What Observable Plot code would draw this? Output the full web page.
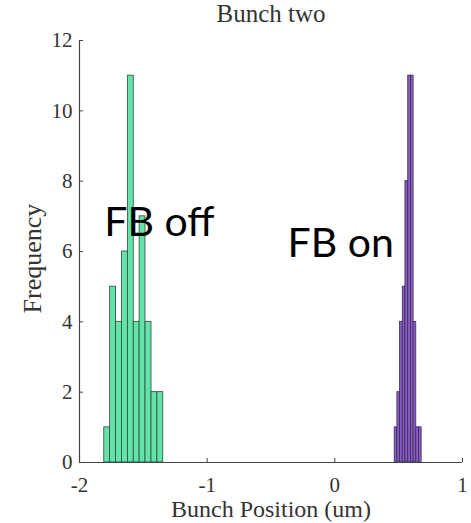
<!DOCTYPE html>
<html><head><meta charset="utf-8">
<script src="https://cdn.jsdelivr.net/npm/d3@7"></script>
<script src="https://cdn.jsdelivr.net/npm/@observablehq/plot@0.6"></script>
<style>body{margin:0;background:#fff}</style>
</head><body><div id="chart"></div>
<script>
const title = "Bunch two";
const xLabel = "Bunch Position (um)";
const yLabel = "Frequency";
const xTicks = [-2, -1, 0, 1];
const yTicks = [0, 2, 4, 6, 8, 10, 12];
// FB off histogram (bin edges and counts)
const offEdges = [-1.806, -1.760, -1.714, -1.667, -1.621, -1.575, -1.529, -1.483, -1.436, -1.390, -1.344];
const offCounts = [1, 5, 4, 6, 11, 4, 7, 4, 2, 2];
// FB on histogram
const onEdges = [0.469, 0.490, 0.511, 0.532, 0.553, 0.575, 0.596, 0.617, 0.638, 0.659, 0.680];
const onCounts = [1, 2, 4, 5, 8, 11, 11, 4, 1, 1];
// annotations
const noteText = ["FB off", "FB on"];
const noteX = [-1.806, -0.371];
const noteY = [6.80, 6.23];

const offBars = offCounts.map((c, i) => ({x1: offEdges[i], x2: offEdges[i + 1], y: c}));
const onBars = onCounts.map((c, i) => ({x1: onEdges[i], x2: onEdges[i + 1], y: c}));
const notes = noteText.map((t, i) => ({t, x: noteX[i], y: noteY[i]}));

const serif = "'Liberation Serif', 'DejaVu Serif', serif";

const chart = Plot.plot({
  width: 471, height: 523,
  marginLeft: 79, marginRight: 9, marginTop: 40, marginBottom: 61,
  x: {domain: [-2, 1]},
  y: {domain: [0, 12]},
  style: {fontFamily: serif, fontSize: "21px", color: "#333", background: "white"},
  marks: [
    Plot.rectY(offBars, {x1: "x1", x2: "x2", y: "y", fill: "#63e3a9", stroke: "#2f4a3e", strokeWidth: 0.8, insetLeft: 0, insetRight: 0}),
    Plot.rectY(onBars, {x1: "x1", x2: "x2", y: "y", fill: "#8a5cc6", stroke: "#3a2a55", strokeWidth: 0.8, insetLeft: 0, insetRight: 0}),
    Plot.ruleX([-2], {stroke: "#444", strokeWidth: 1.2}),
    Plot.ruleY([0], {stroke: "#444", strokeWidth: 1.2}),
    Plot.axisY({ticks: yTicks, tickSize: -4, tickPadding: 11, tickFormat: d => String(d), label: null, stroke: "#444"}),
    Plot.axisX({ticks: xTicks, tickSize: -4, tickPadding: 19, tickFormat: d => String(d), label: null, stroke: "#444"}),
    Plot.text([title], {frameAnchor: "top", lineAnchor: "middle", dy: -27, fontSize: 25, fill: "#333"}),
    Plot.text([xLabel], {frameAnchor: "bottom", lineAnchor: "middle", dy: 47, fontSize: 24, fill: "#333"}),
    Plot.text([yLabel], {frameAnchor: "left", textAnchor: "middle", lineAnchor: "middle", rotate: -90, dx: -47, dy: 7, fontSize: 26, fill: "#333"}),
    Plot.text(notes, {x: "x", y: "y", text: "t", textAnchor: "start", fontFamily: "Lato, 'Open Sans', sans-serif", fontSize: 41, fill: "#000"})
  ]
});
document.getElementById("chart").append(chart);
</script>
</body></html>
